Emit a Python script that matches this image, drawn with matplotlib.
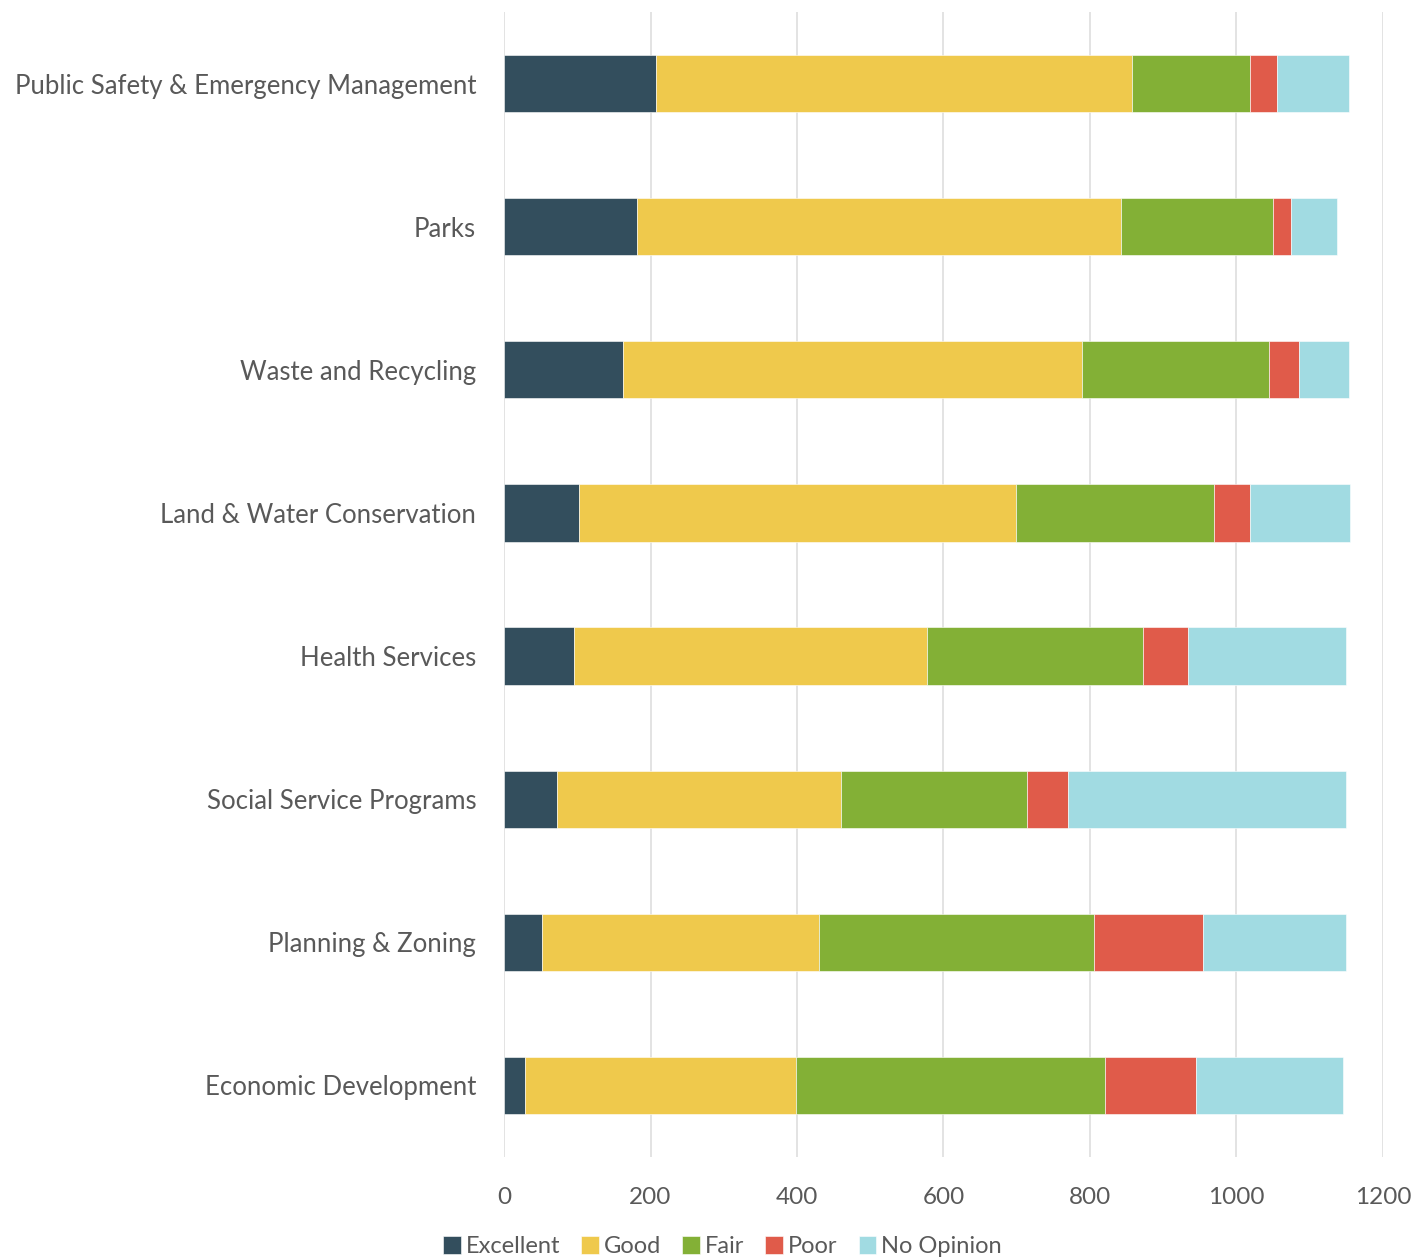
import matplotlib.pyplot as plt
import numpy as np

plt.rcParams['font.family'] = ['Lato', 'DejaVu Sans']

categories = ['Public Safety & Emergency Management', 'Parks', 'Waste and Recycling',
              'Land & Water Conservation', 'Health Services', 'Social Service Programs',
              'Planning & Zoning', 'Economic Development']
series = ['Excellent', 'Good', 'Fair', 'Poor', 'No Opinion']
excellent = [208, 181, 163, 102, 95, 73, 52, 29]
good = [650, 661, 626, 597, 483, 387, 378, 369]
fair = [161, 208, 256, 270, 295, 254, 375, 423]
poor = [37, 24, 41, 50, 61, 56, 149, 124]
no_opinion = [98, 63, 67, 136, 215, 380, 195, 200]
colors = ['#334e5d', '#efc94c', '#83b036', '#e05b4a', '#a1dbe2']

values = [excellent, good, fair, poor, no_opinion]

fig = plt.figure(figsize=(14.25, 12.57), dpi=100)
ax = fig.add_axes([0.3537, 0.0796, 0.6168, 0.9109])

y = np.arange(len(categories))
left = np.zeros(len(categories))
for name, vals, c in zip(series, values, colors):
    ax.barh(y, vals, left=left, height=0.4, color=c, label=name,
            edgecolor='white', linewidth=0.4, zorder=3)
    left += np.array(vals)

ax.set_xlim(0, 1200)
ax.set_ylim(len(categories) - 0.5, -0.5)
ax.set_xticks(range(0, 1201, 200))
ax.set_yticks(y)
ax.set_yticklabels(categories)
ax.grid(axis='x', color='#dedede', linewidth=1.2, zorder=0)
for s in ax.spines.values():
    s.set_visible(False)
ax.tick_params(axis='both', length=0, labelcolor='#595959')
ax.tick_params(axis='x', pad=22, labelsize=17.5)
ax.tick_params(axis='y', pad=20, labelsize=18.5)

fig.legend(loc='lower center', bbox_to_anchor=(0.507, -0.017), ncol=5, frameon=False,
           fontsize=17, handlelength=0.75, handleheight=0.75, handletextpad=0.2,
           columnspacing=0.9, labelcolor='#595959')

fig.savefig('out.png', dpi=100)
